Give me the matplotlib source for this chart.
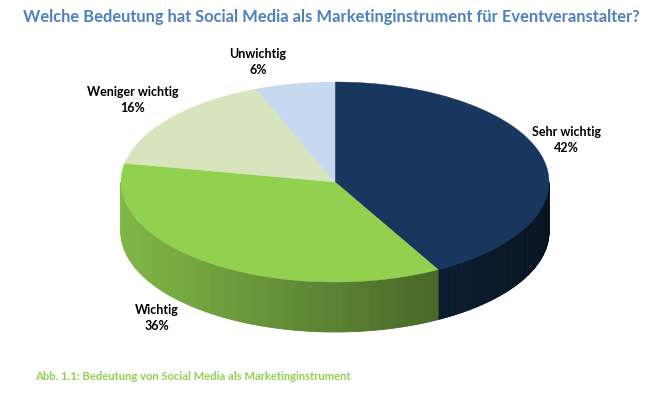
import numpy as np
import matplotlib
matplotlib.use("Agg")
import matplotlib.pyplot as plt
from matplotlib.patches import Polygon
from matplotlib.colors import to_rgb

# data
categories = ["Sehr wichtig", "Wichtig", "Weniger wichtig", "Unwichtig"]
shares = [42, 36, 16, 6]
colors = ["#17375E", "#92D050", "#D7E4BD", "#C6D9F1"]

title = "Welche Bedeutung hat Social Media als Marketinginstrument für Eventveranstalter?"
caption = "Abb. 1.1: Bedeutung von Social Media als Marketinginstrument"

# geometry of the 3D pie (pixel coords)
cx, cy = 335, 182
a, b = 214, 100
depth = 50
label_pos = [(566, 140), (157, 318), (133, 100), (258, 62)]

plt.rcParams['font.family'] = ['Lato', 'DejaVu Sans']

fig = plt.figure(figsize=(6.71, 3.95), dpi=100)
ax = fig.add_axes([0, 0, 1, 1])
ax.set_xlim(0, 671)
ax.set_ylim(395, 0)
ax.axis('off')


def pt(t, dy=0):
    r = np.radians(t)
    return cx + a * np.sin(r), cy - b * np.cos(r) + dy


def shade(x):
    # light on the left, dark on the right
    return 0.88 - 0.52 * (x - (cx - a)) / (2 * a)


total = sum(shares)
bounds = np.concatenate([[0], np.cumsum(shares) / total * 360])

# side walls
for i, col in enumerate(colors):
    t1, t2 = max(bounds[i], 90), min(bounds[i + 1], 270)
    if t2 <= t1:
        continue
    base = np.array(to_rgb(col))
    steps = np.linspace(t1, t2, int(t2 - t1) + 2)
    for s1, s2 in zip(steps[:-1], steps[1:]):
        ts = np.linspace(s1, s2, 4)
        top = [pt(t) for t in ts]
        bot = [pt(t, depth) for t in ts[::-1]]
        xm = pt((s1 + s2) / 2)[0]
        c = np.clip(base * shade(xm), 0, 1)
        ax.add_patch(Polygon(top + bot, closed=True, facecolor=c,
                             edgecolor=c, linewidth=0.6))

# top faces
for i, col in enumerate(colors):
    ts = np.linspace(bounds[i], bounds[i + 1], 200)
    verts = [(cx, cy)] + [pt(t) for t in ts]
    ax.add_patch(Polygon(verts, closed=True, facecolor=col,
                         edgecolor=col, linewidth=0.3))

for name, val, (lx, ly) in zip(categories, shares, label_pos):
    ax.text(lx, ly, f"{name}\n{val}%", ha='center', va='center',
            fontsize=9, fontweight='bold', color='black', linespacing=1.3)

ax.text(331, 17, title, ha='center', va='center', fontsize=11.9,
        fontweight='bold', color='#4F81BD')
ax.text(35, 377, caption, ha='left', va='center', fontsize=8.1,
        fontweight='bold', color='#92D050')

fig.savefig("out.png", dpi=100)
